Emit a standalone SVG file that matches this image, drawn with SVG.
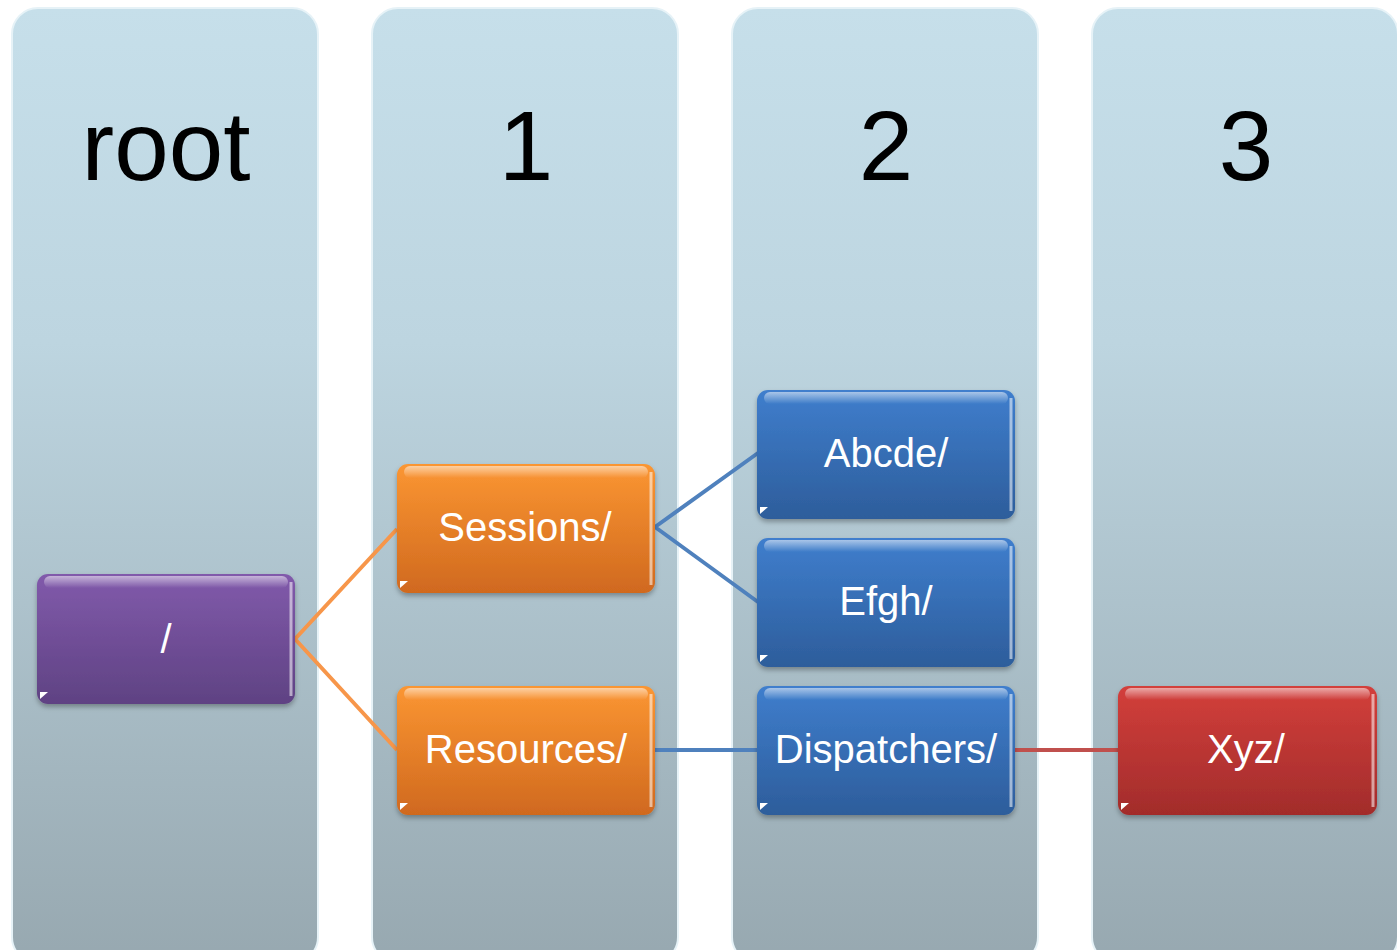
<svg xmlns="http://www.w3.org/2000/svg" width="1397" height="950" viewBox="0 0 1397 950">
<defs>
<linearGradient id="colG" x1="0" y1="0" x2="0" y2="1">
<stop offset="0" stop-color="#C6DFEA"/>
<stop offset="0.35" stop-color="#BDD5E0"/>
<stop offset="1" stop-color="#97A8B0"/>
</linearGradient>
<linearGradient id="purG" x1="0" y1="0" x2="0" y2="1">
<stop offset="0" stop-color="#815AAB"/>
<stop offset="1" stop-color="#5F4283"/>
</linearGradient>
<linearGradient id="oraG" x1="0" y1="0" x2="0" y2="1">
<stop offset="0" stop-color="#FB9632"/>
<stop offset="1" stop-color="#D0691F"/>
</linearGradient>
<linearGradient id="bluG" x1="0" y1="0" x2="0" y2="1">
<stop offset="0" stop-color="#3F7ECD"/>
<stop offset="1" stop-color="#2D5D9B"/>
</linearGradient>
<linearGradient id="redG" x1="0" y1="0" x2="0" y2="1">
<stop offset="0" stop-color="#D33F3B"/>
<stop offset="1" stop-color="#A22C2B"/>
</linearGradient>
<linearGradient id="shine" x1="0" y1="0" x2="0" y2="1">
<stop offset="0" stop-color="#fff" stop-opacity="0.55"/>
<stop offset="1" stop-color="#fff" stop-opacity="0"/>
</linearGradient>
<filter id="sh" x="-10%" y="-10%" width="120%" height="130%">
<feDropShadow dx="0" dy="3" stdDeviation="2.5" flood-color="#000" flood-opacity="0.3"/>
</filter>
</defs>
<style>
.col{fill:url(#colG);stroke:#E6F2F7;stroke-width:2}
.hdr{font-family:"Liberation Sans",Arial,sans-serif;font-size:98px;fill:#000;text-anchor:middle}
.lbl{font-family:"Liberation Sans",Arial,sans-serif;font-size:40px;fill:#fff;text-anchor:middle}
.box{filter:url(#sh)}
.hl{fill:url(#shine)}
.edge{fill:none;stroke:#fff;stroke-opacity:0.55;stroke-width:3}
.tri{fill:#fff}
.conn{fill:none;stroke-width:4}
</style>
<g id="columns">
<g id="col-root"><rect class="col" x="12" y="8" width="306" height="955" rx="26"/><text class="hdr" x="166" y="180">root</text></g>
<g id="col-1"><rect class="col" x="372" y="8" width="306" height="955" rx="26"/><text class="hdr" x="526" y="180">1</text></g>
<g id="col-2"><rect class="col" x="732" y="8" width="306" height="955" rx="26"/><text class="hdr" x="886" y="180">2</text></g>
<g id="col-3"><rect class="col" x="1092" y="8" width="306" height="955" rx="26"/><text class="hdr" x="1246" y="180">3</text></g>
</g>
<g id="connectors">
<path class="conn" stroke="#F7964A" d="M295,639 L397,529 M295,639 L397,750"/>
<path class="conn" stroke="#4F81BD" d="M655,527 L758,453 M655,527 L758,602 M655,750 L758,750"/>
<path class="conn" stroke="#C0504D" d="M1015,750 L1118,750"/>
</g>
<g id="node-root">
<rect class="box" x="37" y="574" width="258" height="130" rx="11" fill="url(#purG)"/>
<rect class="hl" x="44" y="576" width="244" height="12" rx="6"/>
<path class="edge" d="M291,582 V696"/>
<path class="tri" d="M40,692 L48,692 L40,699 Z"/>
<text class="lbl" x="166" y="653">/</text>
</g>
<g id="node-sessions">
<rect class="box" x="397" y="464" width="258" height="129" rx="11" fill="url(#oraG)"/>
<rect class="hl" x="404" y="466" width="244" height="12" rx="6"/>
<path class="edge" d="M651,472 V585"/>
<path class="tri" d="M400,581 L408,581 L400,588 Z"/>
<text class="lbl" x="525" y="541">Sessions/</text>
</g>
<g id="node-resources">
<rect class="box" x="397" y="686" width="258" height="129" rx="11" fill="url(#oraG)"/>
<rect class="hl" x="404" y="688" width="244" height="12" rx="6"/>
<path class="edge" d="M651,694 V807"/>
<path class="tri" d="M400,803 L408,803 L400,810 Z"/>
<text class="lbl" x="526" y="763">Resources/</text>
</g>
<g id="node-abcde">
<rect class="box" x="757" y="390" width="258" height="129" rx="11" fill="url(#bluG)"/>
<rect class="hl" x="764" y="392" width="244" height="12" rx="6"/>
<path class="edge" d="M1011,398 V511"/>
<path class="tri" d="M760,507 L768,507 L760,514 Z"/>
<text class="lbl" x="886" y="467">Abcde/</text>
</g>
<g id="node-efgh">
<rect class="box" x="757" y="538" width="258" height="129" rx="11" fill="url(#bluG)"/>
<rect class="hl" x="764" y="540" width="244" height="12" rx="6"/>
<path class="edge" d="M1011,546 V659"/>
<path class="tri" d="M760,655 L768,655 L760,662 Z"/>
<text class="lbl" x="886" y="615">Efgh/</text>
</g>
<g id="node-dispatchers">
<rect class="box" x="757" y="686" width="258" height="129" rx="11" fill="url(#bluG)"/>
<rect class="hl" x="764" y="688" width="244" height="12" rx="6"/>
<path class="edge" d="M1011,694 V807"/>
<path class="tri" d="M760,803 L768,803 L760,810 Z"/>
<text class="lbl" x="886" y="763">Dispatchers/</text>
</g>
<g id="node-xyz">
<rect class="box" x="1118" y="686" width="259" height="129" rx="11" fill="url(#redG)"/>
<rect class="hl" x="1125" y="688" width="245" height="12" rx="6"/>
<path class="edge" d="M1373,694 V807"/>
<path class="tri" d="M1121,803 L1129,803 L1121,810 Z"/>
<text class="lbl" x="1246" y="763">Xyz/</text>
</g>
</svg>
